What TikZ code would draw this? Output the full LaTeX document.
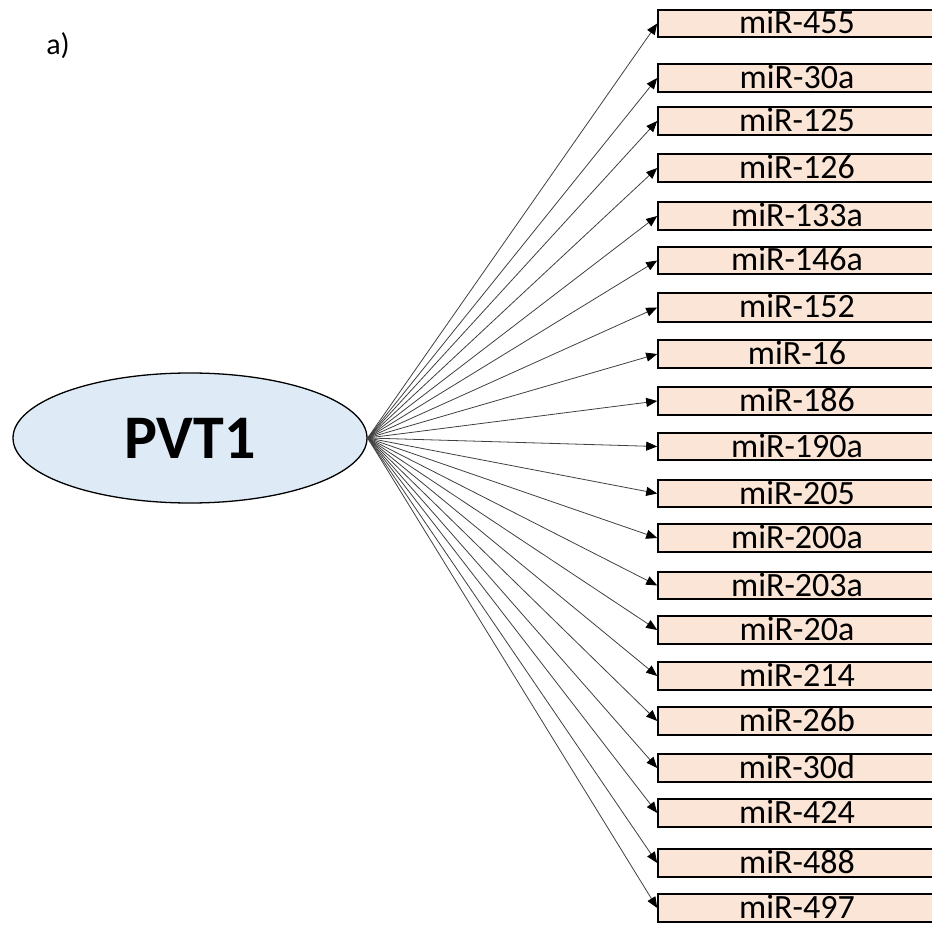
\documentclass[tikz,border=0pt]{standalone}
\usepackage{fontspec}
\setmainfont{Carlito}
\usetikzlibrary{shapes.geometric,arrows.meta}
\definecolor{boxfill}{HTML}{FBE5D6}
\definecolor{ellfill}{HTML}{DEEBF7}
\begin{document}
\begin{tikzpicture}[x=1pt,y=-1pt,
  mirbox/.style={draw=black,line width=1.6pt,fill=boxfill,rectangle,inner sep=0pt,
    minimum width=278pt,font=\fontsize{34}{34}\selectfont,text height=21pt,text depth=0pt},
  hub/.style={draw=black,line width=1.3pt,fill=ellfill,ellipse,inner sep=0pt,
    minimum width=354pt,minimum height=130pt,font=\fontsize{62}{62}\selectfont\bfseries},
  link/.style={draw=black!75,line width=0.8pt,-{Triangle[length=11pt,width=9pt,color=black]}}]
\useasboundingbox (0,0) rectangle (932,925);
\node[font=\fontsize{30}{30}\selectfont] (lbl) at (58,46) {a)};
\node[hub] (pvt) at (190,438) {PVT1};
\foreach \n/\t/\b [count=\i] in {
  455/10/37, 30a/64/92, 125/107/135, 126/154/182, 133a/202/230, 146a/247/274,
  152/293/322, 16/340/368, 186/387/415, 190a/433/460, 205/480/507, 200a/524/552,
  203a/572/599, 20a/616/644, 214/662/690, 26b/707/735, 30d/754/782, 424/799/827,
  488/849/877, 497/894/922}{
  \pgfmathsetmacro{\h}{\b-\t}
  \node[mirbox,minimum height=\h pt] (m\i) at (797,{(\t+\b)/2}) {miR-\n};
  \draw[link] (pvt.east) -- (m\i.west);
}
\end{tikzpicture}
\end{document}
